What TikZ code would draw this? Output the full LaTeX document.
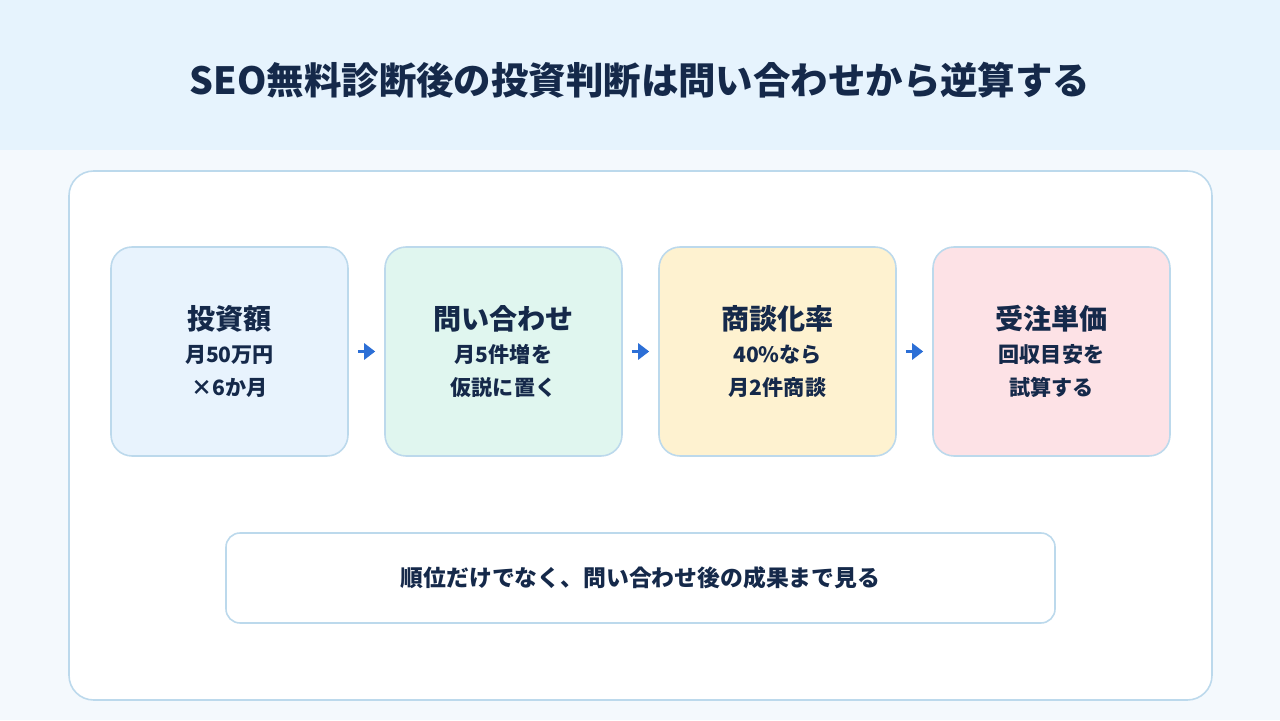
\documentclass[tikz,border=0pt]{standalone}
\usepackage{fontspec}
\setmainfont{Noto Sans CJK JP}
\usetikzlibrary{arrows.meta,positioning}
\definecolor{navy}{HTML}{15294A}
\definecolor{headbg}{HTML}{E6F3FD}
\definecolor{pagebg}{HTML}{F4F9FD}
\definecolor{edge}{HTML}{BCD9EC}
\definecolor{arrowblue}{HTML}{2C6FD6}
\definecolor{cblue}{HTML}{E8F3FD}
\definecolor{cgreen}{HTML}{E0F6EF}
\definecolor{cyellow}{HTML}{FEF2D0}
\definecolor{cpink}{HTML}{FDE2E6}
\newcommand{\cardhead}[1]{{\fontsize{16}{18.7}\selectfont #1}}
\tikzset{
  title/.style={font=\bfseries\fontsize{21.3}{24}\selectfont,text=navy},
  panel/.style={rounded corners=14pt,draw=edge,fill=white,line width=0.9pt},
  card/.style={rounded corners=12pt,draw=edge,line width=0.9pt,minimum width=4.74cm,minimum height=4.18cm,align=center,text=navy,font=\bfseries\fontsize{12}{18.7}\selectfont},
  note/.style={rounded corners=8pt,draw=edge,fill=white,line width=0.9pt,minimum width=16.58cm,minimum height=1.8cm,font=\bfseries\fontsize{13}{15}\selectfont,text=navy},
  arr/.style={-{Triangle[length=2.2mm,width=3.2mm]},draw=arrowblue,line width=2pt}
}
\begin{document}
\begin{tikzpicture}[x=1cm,y=1cm]
\path[use as bounding box] (0,0) rectangle (25.6,14.4);
\fill[pagebg] (0,0) rectangle (25.6,14.4);
\fill[headbg] (0,11.4) rectangle (25.6,14.4);
\node[title] (ttl) at (12.8,12.8) {SEO無料診断後の投資判断は問い合わせから逆算する};

\node[panel,minimum width=22.86cm,minimum height=10.58cm] (pnl) at (12.81,5.69) {};

\node[card,fill=cblue] (inv) at (4.59,7.37) {\cardhead{投資額}\\月50万円\\×6か月};
\node[card,fill=cgreen] (inq) at (10.07,7.37) {\cardhead{問い合わせ}\\月5件増を\\仮説に置く};
\node[card,fill=cyellow] (rate) at (15.55,7.37) {\cardhead{商談化率}\\40\%なら\\月2件商談};
\node[card,fill=cpink] (price) at (21.03,7.37) {\cardhead{受注単価}\\回収目安を\\試算する};

\draw[arr] ([xshift=0.18cm]inv.east)--([xshift=-0.18cm]inq.west);
\draw[arr] ([xshift=0.18cm]inq.east)--([xshift=-0.18cm]rate.west);
\draw[arr] ([xshift=0.18cm]rate.east)--([xshift=-0.18cm]price.west);

\node[note] (sum) at (12.81,2.84) {順位だけでなく、問い合わせ後の成果まで見る};
\end{tikzpicture}
\end{document}
